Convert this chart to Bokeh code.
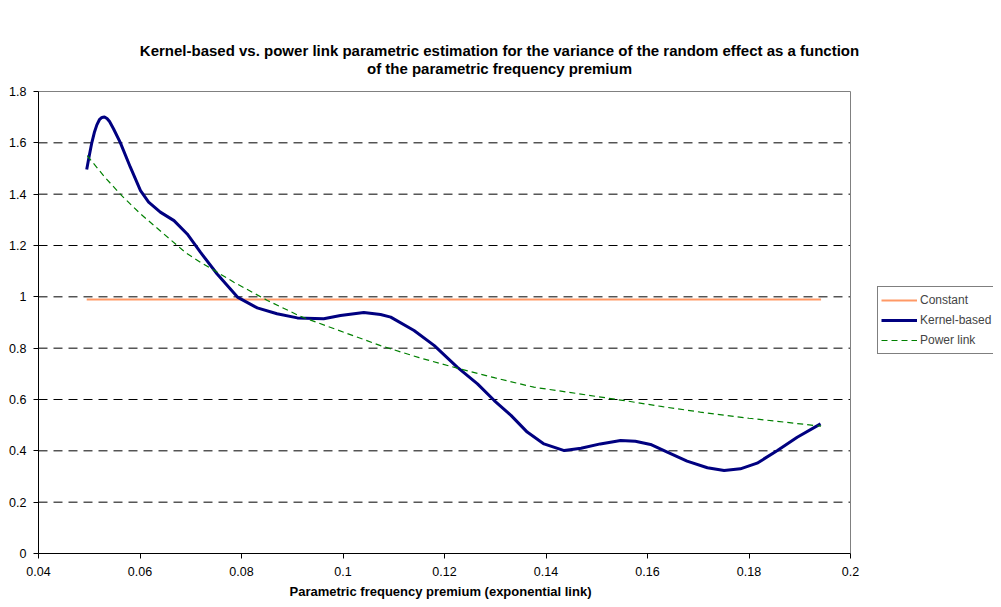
from bokeh.plotting import figure
from bokeh.models import Title, Label, Legend, LegendItem, FixedTicker, CustomJSTickFormatter, Range1d
from bokeh.embed import file_html
from bokeh.resources import INLINE

# ---- data ----
kernel_x = [0.0495, 0.0500, 0.0505, 0.0510, 0.0515, 0.0520, 0.0525, 0.0530, 0.0535, 0.0540,
            0.0548, 0.0561, 0.0581, 0.0601,
            0.0617, 0.0640, 0.0667, 0.0693, 0.0719, 0.0752, 0.0792, 0.0831, 0.0870, 0.0910,
            0.0962, 0.0995, 0.1041, 0.1074, 0.1094, 0.1140, 0.1180, 0.1225, 0.1265, 0.1298,
            0.1331, 0.1363, 0.1396, 0.1436, 0.1469, 0.1507, 0.1547, 0.1576, 0.1606, 0.1639,
            0.1678, 0.1718, 0.1751, 0.1783, 0.1816, 0.1856, 0.1895, 0.1941]
kernel_y = [1.496, 1.550, 1.600, 1.640, 1.670, 1.690, 1.699, 1.701, 1.695, 1.683,
            1.654, 1.602, 1.505, 1.414,
            1.369, 1.330, 1.297, 1.245, 1.174, 1.089, 0.999, 0.957, 0.934, 0.918,
            0.915, 0.927, 0.939, 0.931, 0.921, 0.869, 0.810, 0.726, 0.661, 0.596,
            0.538, 0.473, 0.427, 0.401, 0.410, 0.427, 0.440, 0.437, 0.425, 0.395,
            0.360, 0.334, 0.323, 0.330, 0.352, 0.401, 0.453, 0.505]

power_x = [0.0496, 0.0530, 0.0562, 0.0600, 0.0647, 0.0690, 0.0719, 0.0752, 0.0785, 0.0851,
           0.0916, 0.0989, 0.1074, 0.1150, 0.1231, 0.1300, 0.1376, 0.1462, 0.1560, 0.1630,
           0.1704, 0.1800, 0.1942]
power_y = [1.550, 1.468, 1.398, 1.325, 1.245, 1.172, 1.135, 1.096, 1.057, 0.986,
           0.924, 0.871, 0.810, 0.763, 0.719, 0.684, 0.648, 0.623, 0.594, 0.572,
           0.551, 0.527, 0.496]

const_x = [0.0495, 0.1942]
const_y = [0.99, 0.99]

x_ticks = [0.04, 0.06, 0.08, 0.10, 0.12, 0.14, 0.16, 0.18, 0.20]
y_ticks = [0, 0.2, 0.4, 0.6, 0.8, 1.0, 1.2, 1.4, 1.6, 1.8]

title_line1 = "Kernel-based vs. power link parametric estimation for the variance of the random effect as a function"
title_line2 = "of the parametric frequency premium"
x_label = "Parametric frequency premium (exponential link)"

FONT = "Liberation Sans"

X0, X1 = x_ticks[0], x_ticks[-1]
Y0, Y1 = y_ticks[0], y_ticks[-1]

# The axes box is 812 x 462 px; the drawing frame is extended to the right and upward
# so that the legend and the title (outside the axes box) are not clipped.
BOX_W, BOX_H = 812.0, 462.0
FRAME_W, FRAME_H = 955.0, 553.0
x_max = X0 + (X1 - X0) * FRAME_W / BOX_W
y_max = Y0 + (Y1 - Y0) * FRAME_H / BOX_H

p = figure(width=993, height=603, output_backend="svg", toolbar_location=None,
           x_range=Range1d(X0, x_max), y_range=Range1d(Y0, y_max),
           min_border_left=38, min_border_right=0, min_border_top=0, min_border_bottom=50)
p.title = None
p.outline_line_color = None
p.background_fill_color = "white"
p.border_fill_color = "white"
p.xgrid.visible = False
p.ygrid.visible = False

# dashed horizontal grid lines at the inner y ticks, across the axes box only
grid_y = y_ticks[1:-1]
p.segment(x0=[X0] * len(grid_y), y0=grid_y, x1=[X1] * len(grid_y), y1=grid_y,
          line_color="#000000", line_width=1, line_dash="9 6")

# top and right border of the axes box
p.segment(x0=[X0, X1], y0=[Y1, Y0], x1=[X1, X1], y1=[Y1, Y1], line_color="#808080", line_width=1)

fmt = CustomJSTickFormatter(code="return String(Math.round(tick*100)/100);")
for ax, ticks in ((p.xaxis[0], x_ticks), (p.yaxis[0], y_ticks)):
    ax.ticker = FixedTicker(ticks=ticks)
    ax.formatter = fmt
    ax.axis_line_color = "#000000"
    ax.major_tick_line_color = "#000000"
    ax.major_tick_in = 0
    ax.major_tick_out = 5
    ax.minor_tick_line_color = None
    ax.major_label_text_font = FONT
    ax.major_label_text_font_size = "12.5px"
    ax.major_label_text_color = "#000000"

p.xaxis.bounds = (X0, X1)
p.yaxis.bounds = (Y0, Y1)
p.yaxis.major_label_standoff = 7
p.xaxis.major_label_standoff = 8

# x axis title, centred under the axes box
xt = Title(text=x_label, align="left", offset=251, text_font=FONT, text_font_size="13px",
           text_font_style="bold", text_color="#000000", standoff=6)
p.add_layout(xt, "below")

r_const = p.line(const_x, const_y, line_color="#FF9966", line_width=2)
r_kernel = p.line(kernel_x, kernel_y, line_color="#000080", line_width=3, line_join="round")
r_power = p.line(power_x, power_y, line_color="#008000", line_width=1.2, line_dash="6 4")

legend = Legend(items=[LegendItem(label="Constant", renderers=[r_const]),
                       LegendItem(label="Kernel-based", renderers=[r_kernel]),
                       LegendItem(label="Power link", renderers=[r_power])],
                location=(839, 199), orientation="vertical",
                label_text_font=FONT, label_text_font_size="12px",
                glyph_width=36, glyph_height=20, label_height=20, label_standoff=3,
                padding=3, spacing=0, margin=0,
                border_line_color="#000000", border_line_width=1,
                background_fill_color="white", background_fill_alpha=1.0)
p.add_layout(legend, "center")

for txt, y in ((title_line1, 503), (title_line2, 485)):
    p.add_layout(Label(x=461, y=y, x_units="screen", y_units="screen", text=txt,
                       text_align="center", text_baseline="middle",
                       text_font=FONT, text_font_size="15px", text_font_style="bold",
                       text_color="#000000"))

open("out.html", "w").write(file_html(p, INLINE))
